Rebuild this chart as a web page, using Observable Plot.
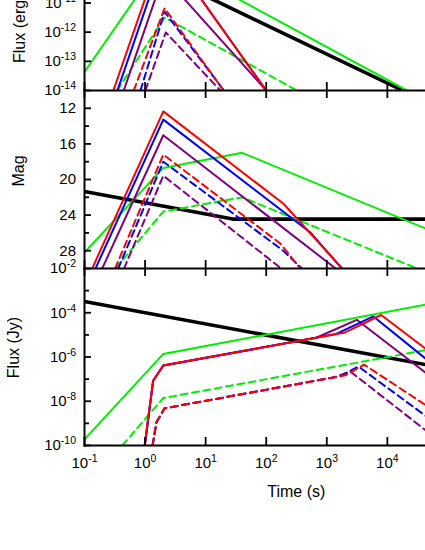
<!DOCTYPE html>
<html><head><meta charset="utf-8">
<script src="https://cdn.jsdelivr.net/npm/d3@7"></script>
<script src="https://cdn.jsdelivr.net/npm/@observablehq/plot@0.6"></script>
<style>
html,body{margin:0;padding:0;background:#fff;overflow:hidden;width:425px;height:550px;}
#wrap{position:relative;width:425px;height:550px;}
#wrap > svg{position:absolute;left:0;}
</style></head><body><div id="wrap"></div>
<script>
// ---- tick values ----
const xTicks = [0.1, 1, 10, 100, 1e3, 1e4];
const topTicks = [1e-14, 1e-13, 1e-12, 1e-11];
const magTicks = [12, 16, 20, 24, 28];
const magMinor = [14, 18, 22, 26];
const jyTicks = [1e-10, 1e-8, 1e-6, 1e-4, 1e-2];
const jyMinor = [1e-9, 1e-7, 1e-5, 1e-3];

// ---- top panel: Flux (erg cm^-2 s^-1) vs time (s) ----
const topBlack = [[0.1, 1.7e-9], [1.8e4, 1e-14]];
const topGreen = [[0.1, 4.3e-14], [2, 3.4e-10], [2.1e4, 1e-14]];
const topPurple = [[0.445, 1e-14], [2, 8.7e-11], [100, 1e-14]];
const topBlue = [[0.35, 1e-14], [2.2, 6.9e-10], [100, 1e-14]];
const topRed = [[0.30, 1e-14], [2, 8.9e-10], [100, 1e-14]];
const topGreenDash = [[0.346, 1e-14], [2.1, 3.2e-12], [320, 1e-14]];
const topPurpleDash = [[1.01, 1e-14], [2.2, 9.8e-13], [17.5, 1e-14]];
const topBlueDash = [[0.84, 1e-14], [2.1, 5.0e-12], [20, 1e-14]];
const topRedDash = [[0.65, 1e-14], [2.1, 6.6e-12], [19.8, 1e-14]];

// ---- middle panel: Mag ----
const magBlack = [[0.1, 21.36], [28, 24.45], [5e4, 24.45]];
const magGreen = [[0.1, 28.2], [2, 18.7], [40, 17.0], [5e4, 25.7]];
const magPurple = [[0.196, 30], [2, 15.03], [1400, 30]];
const magBlue = [[0.152, 30], [2, 13.27], [530, 25.92], [1770, 30]];
const magRed = [[0.134, 30], [2, 12.35], [193, 22.73], [1800, 30]];
const magGreenDash = [[0.324, 30], [2, 23.6], [40, 22.0], [3.1e4, 30]];
const magPurpleDash = [[0.45, 30], [2, 19.57], [177, 30]];
const magBlueDash = [[0.36, 30], [2, 18.0], [191, 28.0], [388, 30]];
const magRedDash = [[0.32, 30], [2, 17.2], [171, 27.2], [365, 30]];

// ---- bottom panel: Flux (Jy) ----
const jyBlack = [[0.1, 3.2e-4], [5e4, 4.2e-7]];
const jyGreen = [[0.1, 1.9e-10], [2, 1.38e-6], [5e4, 2.5e-4]];
const jyPurple = [[0.99, 1e-10], [1.36, 8.5e-8], [2, 4.1e-7], [670, 7.4e-6], [3130, 4.8e-5], [5e4, 1.4e-7]];
const jyBlue = [[0.99, 1e-10], [1.36, 8.5e-8], [2, 4.1e-7], [1430, 1.1e-5], [5890, 6.8e-5], [5e4, 6e-7]];
const jyRed = [[0.98, 1e-10], [1.36, 8.5e-8], [2, 4.1e-7], [2000, 1.29e-5], [7900, 7.9e-5], [5e4, 1.7e-6]];
const jyGreenDash = [[0.42, 1e-10], [2, 1.4e-8], [5e4, 2.2e-6]];
const jyPurpleDash = [[1.33, 1e-10], [1.54, 1.12e-9], [2.1, 4.8e-9], [1370, 1.23e-7], [2430, 2.24e-7], [5e4, 3.5e-10]];
const jyBlueDash = [[1.33, 1e-10], [1.54, 1.12e-9], [2.1, 4.8e-9], [1660, 1.35e-7], [3340, 3.7e-7], [5e4, 1.6e-9]];
const jyRedDash = [[1.33, 1e-10], [1.54, 1.12e-9], [2.1, 4.8e-9], [2010, 1.48e-7], [4140, 4.5e-7], [5e4, 5.1e-9]];

// ---- styling ----
const C = {black: "#000000", green: "#00ee00", purple: "#800080", blue: "#0000ff", red: "#ff0000"};
const FONT = "'Liberation Sans', Arial, Helvetica, sans-serif";
const DASH = "7,4.5";

function build(list) {
  return list.map(([data, key, dashed]) => Plot.line(data, {
    x: d => d[0], y: d => d[1], stroke: C[key],
    strokeWidth: key === "black" ? 3.6 : 2,
    strokeDasharray: dashed ? DASH : undefined,
    clip: true
  }));
}
const supFmt = d => "10^" + Math.round(Math.log10(d));
const xScale = {type: "log", domain: [0.1, 1e6], range: [84, 508]};
const svgStyle = {background: "none", overflow: "visible", fontFamily: FONT, fontSize: "15px", color: "black"};
const TW = 1.8;
const ticksOnly = (axis, data, opts) => axis(data, {...opts, fill: "none", label: null, strokeWidth: TW});

const topPlot = Plot.plot({
  width: 425, height: 175, marginLeft: 84, marginRight: 0, marginTop: 0, marginBottom: 0,
  style: svgStyle, x: xScale, y: {type: "log", domain: [1e-14, 1e-8]},
  marks: [
    ...build([[topBlack, "black"], [topGreen, "green"], [topGreenDash, "green", true],
      [topPurple, "purple"], [topPurpleDash, "purple", true], [topBlue, "blue"], [topBlueDash, "blue", true],
      [topRed, "red"], [topRedDash, "red", true]]),
    ticksOnly(Plot.axisX, xTicks, {anchor: "bottom", tickSize: -8}),
    Plot.axisY(topTicks, {anchor: "left", tickSize: -7, tickPadding: 15.5, tickFormat: supFmt, label: null, strokeWidth: TW, fontSize: 15}),
    Plot.frame({anchor: "left", strokeWidth: 2}),
    Plot.frame({anchor: "bottom", strokeWidth: 2})
  ]
});

const magPlot = Plot.plot({
  width: 425, height: 178, marginLeft: 84, marginRight: 0, marginTop: 0, marginBottom: 0,
  style: svgStyle, x: xScale, y: {domain: [10, 30], reverse: true},
  marks: [
    ...build([[magBlack, "black"], [magGreen, "green"], [magGreenDash, "green", true],
      [magPurple, "purple"], [magPurpleDash, "purple", true], [magBlue, "blue"], [magBlueDash, "blue", true],
      [magRed, "red"], [magRedDash, "red", true]]),
    ticksOnly(Plot.axisX, xTicks, {anchor: "top", tickSize: -7}),
    ticksOnly(Plot.axisX, xTicks, {anchor: "bottom", tickSize: -8}),
    Plot.axisY(magTicks, {anchor: "left", tickSize: -7, tickPadding: 15.5, label: null, strokeWidth: TW, fontSize: 15}),
    ticksOnly(Plot.axisY, magMinor, {anchor: "left", tickSize: -5}),
    Plot.frame({anchor: "left", strokeWidth: 2}),
    Plot.frame({anchor: "bottom", strokeWidth: 2})
  ]
});

const jyPlot = Plot.plot({
  width: 425, height: 282, marginLeft: 84, marginRight: 0, marginTop: 0, marginBottom: 105,
  style: svgStyle, x: xScale, y: {type: "log", domain: [1e-10, 1e-2]},
  marks: [
    ...build([[jyBlack, "black"], [jyGreen, "green"], [jyGreenDash, "green", true],
      [jyPurple, "purple"], [jyPurpleDash, "purple", true], [jyBlue, "blue"], [jyBlueDash, "blue", true],
      [jyRed, "red"], [jyRedDash, "red", true]]),
    ticksOnly(Plot.axisX, xTicks, {anchor: "top", tickSize: -7}),
    Plot.axisX(xTicks, {anchor: "bottom", tickSize: -8, tickPadding: 20.3, tickFormat: supFmt, label: null, strokeWidth: TW, fontSize: 15}),
    Plot.axisY(jyTicks, {anchor: "left", tickSize: -7, tickPadding: 15.5, tickFormat: supFmt, label: null, strokeWidth: TW, fontSize: 15}),
    ticksOnly(Plot.axisY, jyMinor, {anchor: "left", tickSize: -5}),
    Plot.frame({anchor: "left", strokeWidth: 2}),
    Plot.frame({anchor: "bottom", strokeWidth: 2})
  ]
});

const wrap = document.getElementById("wrap");
[[topPlot, -85], [magPlot, 90], [jyPlot, 268]].forEach(([svg, top]) => {
  svg.style.top = top + "px";
  wrap.appendChild(svg);
  d3.select(svg).selectAll("text").each(function () {
    const t = d3.select(this);
    const s = t.text();
    if (!s.includes("^")) return;
    const [b, e] = s.split("^");
    t.text(null);
    t.append("tspan").text(b);
    t.append("tspan").attr("dy", -6).attr("font-size", 10.5).text(e);
  });
});

function title(svg, x, y, anchor, parts) {
  const t = d3.select(svg).append("text")
    .attr("transform", `translate(${x},${y}) rotate(-90)`)
    .attr("text-anchor", anchor).attr("font-size", 16).attr("font-family", FONT).attr("fill", "black");
  let shift = 0;
  parts.forEach(([str, sup]) => {
    const ts = t.append("tspan").text(str);
    if (sup && shift === 0) { ts.attr("dy", -6).attr("font-size", 11); shift = 1; }
    else if (!sup && shift === 1) { ts.attr("dy", 6); shift = 0; }
    else if (sup) ts.attr("font-size", 11);
  });
}
title(topPlot, 25, 148, "start", [["Flux (erg cm"], ["-2", true], [" s"], ["-1", true], [")"]]);
title(magPlot, 24, 81, "middle", [["Mag"]]);
title(jyPlot, 18.5, 79.5, "middle", [["Flux (Jy)"]]);
d3.select(jyPlot).append("text")
  .attr("x", 296.3).attr("y", 229).attr("text-anchor", "middle")
  .attr("font-size", 16).attr("font-family", FONT).attr("fill", "black").text("Time (s)");
</script></body></html>
